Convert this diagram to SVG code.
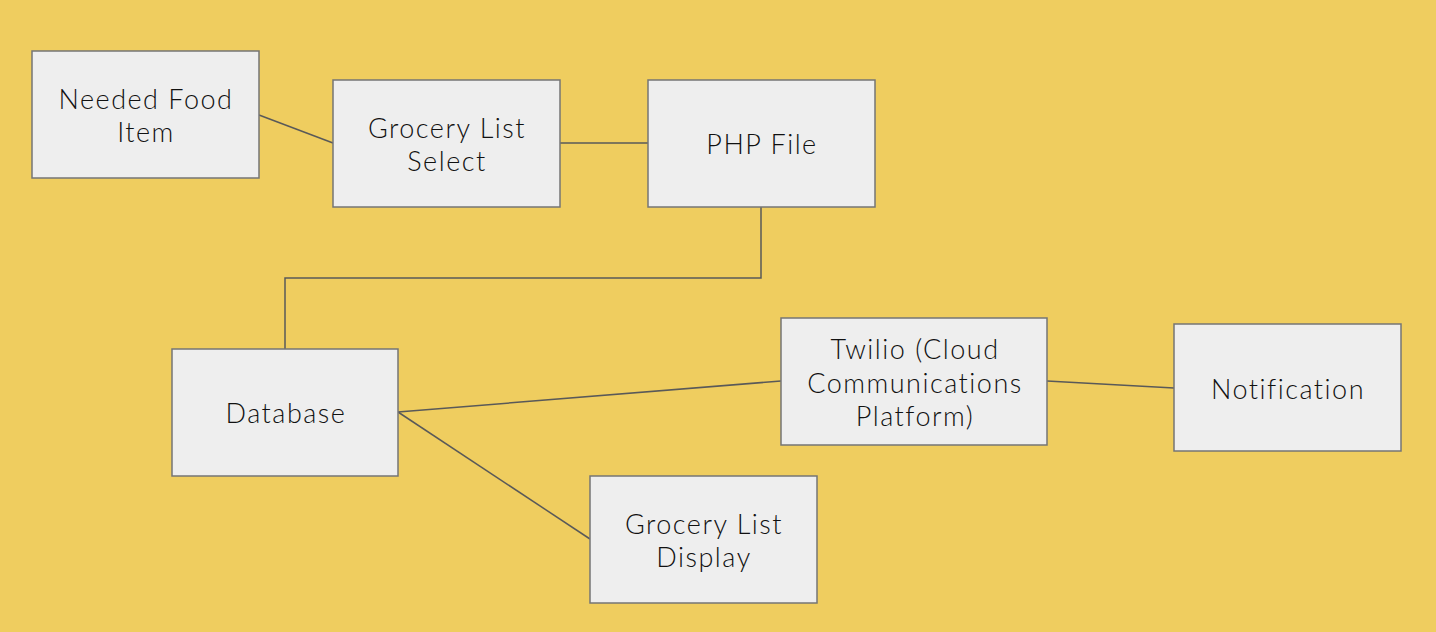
<svg xmlns="http://www.w3.org/2000/svg" width="1436" height="632" viewBox="0 0 1436 632">
<style>
.box{fill:#eeeeee;stroke:#757575;stroke-width:1.5}
.lbl{font-family:Lato,"Noto Sans",sans-serif;font-size:27px;font-weight:300;letter-spacing:1.5px;fill:#111;text-anchor:middle}
.edge{stroke:#595959;stroke-width:1.5;fill:none}
</style>
<rect width="1436" height="632" fill="#efcd5f"/>
<g id="connectors">
<line class="edge" x1="259" y1="115" x2="333" y2="143"/>
<line class="edge" x1="560" y1="143" x2="648" y2="143"/>
<polyline class="edge" points="761,207 761,278 285,278 285,349"/>
<line class="edge" x1="398" y1="412" x2="781" y2="381"/>
<line class="edge" x1="398" y1="412" x2="590" y2="539"/>
<line class="edge" x1="1047" y1="381" x2="1174" y2="388"/>
</g>
<g id="needed-food-item"><rect class="box" x="32" y="51" width="227" height="127"/><text class="lbl" x="146" y="109">Needed Food</text><text class="lbl" x="146" y="142">Item</text></g>
<g id="grocery-list-select"><rect class="box" x="333" y="80" width="227" height="127"/><text class="lbl" x="447" y="138">Grocery List</text><text class="lbl" x="447" y="171">Select</text></g>
<g id="php-file"><rect class="box" x="648" y="80" width="227" height="127"/><text class="lbl" x="762" y="154">PHP File</text></g>
<g id="database"><rect class="box" x="172" y="349" width="226" height="127"/><text class="lbl" x="286" y="423">Database</text></g>
<g id="twilio"><rect class="box" x="781" y="318" width="266" height="127"/><text class="lbl" x="915" y="359">Twilio (Cloud</text><text class="lbl" x="915" y="393">Communications</text><text class="lbl" x="915" y="426">Platform)</text></g>
<g id="notification"><rect class="box" x="1174" y="324" width="227" height="127"/><text class="lbl" x="1288" y="399">Notification</text></g>
<g id="grocery-list-display"><rect class="box" x="590" y="476" width="227" height="127"/><text class="lbl" x="704" y="534">Grocery List</text><text class="lbl" x="704" y="567">Display</text></g>
</svg>
